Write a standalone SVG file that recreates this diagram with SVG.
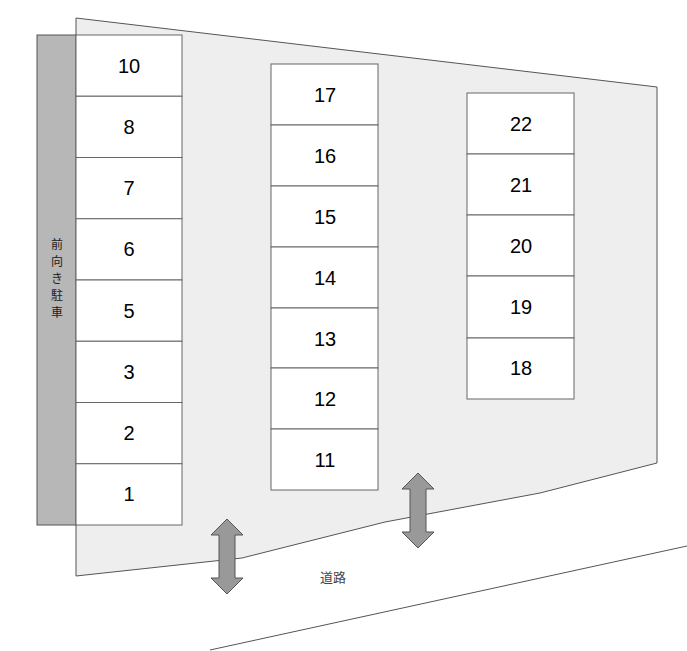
<svg xmlns="http://www.w3.org/2000/svg" width="687" height="651" viewBox="0 0 687 651">
<style>
.s{fill:#fff;stroke:#666;stroke-width:1}
.n{font-family:"Liberation Sans",Arial,sans-serif;font-size:20px;fill:#000;text-anchor:middle;dominant-baseline:central}
.ar{fill:#999;stroke:#555;stroke-width:1}
</style>
<rect width="687" height="651" fill="#fff"/>
<g id="lot"><polygon points="76,18 657,87 657,463 540,493 385,522 242,558 76,576" fill="#eee" stroke="#555" stroke-width="1"/></g>
<g id="bar"><rect x="37" y="35" width="39" height="490" fill="#b7b7b7" stroke="#555"/>
<text font-family="'Noto Sans CJK JP',sans-serif" font-size="12" fill="#222" text-anchor="middle"><tspan x="57" y="249">前</tspan><tspan x="57" y="266">向</tspan><tspan x="57" y="283">き</tspan><tspan x="57" y="300">駐</tspan><tspan x="57" y="317">車</tspan></text></g>
<g id="c1">
<rect class="s" x="76" y="35" width="106" height="61.25"/><text class="n" x="129" y="66">10</text>
<rect class="s" x="76" y="96.25" width="106" height="61.25"/><text class="n" x="129" y="127">8</text>
<rect class="s" x="76" y="157.5" width="106" height="61.25"/><text class="n" x="129" y="188">7</text>
<rect class="s" x="76" y="218.75" width="106" height="61.25"/><text class="n" x="129" y="249">6</text>
<rect class="s" x="76" y="280" width="106" height="61.25"/><text class="n" x="129" y="311">5</text>
<rect class="s" x="76" y="341.25" width="106" height="61.25"/><text class="n" x="129" y="372">3</text>
<rect class="s" x="76" y="402.5" width="106" height="61.25"/><text class="n" x="129" y="433">2</text>
<rect class="s" x="76" y="463.75" width="106" height="61.25"/><text class="n" x="129" y="494">1</text>
</g>
<g id="c2">
<rect class="s" x="271" y="64" width="107" height="61"/><text class="n" x="325" y="95">17</text>
<rect class="s" x="271" y="125" width="107" height="61"/><text class="n" x="325" y="156">16</text>
<rect class="s" x="271" y="186" width="107" height="61"/><text class="n" x="325" y="217">15</text>
<rect class="s" x="271" y="247" width="107" height="61"/><text class="n" x="325" y="278">14</text>
<rect class="s" x="271" y="308" width="107" height="60"/><text class="n" x="325" y="339">13</text>
<rect class="s" x="271" y="368" width="107" height="61"/><text class="n" x="325" y="399">12</text>
<rect class="s" x="271" y="429" width="107" height="61"/><text class="n" x="325" y="460">11</text>
</g>
<g id="c3">
<rect class="s" x="467" y="93" width="107" height="61"/><text class="n" x="521" y="124">22</text>
<rect class="s" x="467" y="154" width="107" height="61"/><text class="n" x="521" y="185">21</text>
<rect class="s" x="467" y="215" width="107" height="61"/><text class="n" x="521" y="246">20</text>
<rect class="s" x="467" y="276" width="107" height="62"/><text class="n" x="521" y="307">19</text>
<rect class="s" x="467" y="338" width="107" height="61"/><text class="n" x="521" y="368">18</text>
</g>
<g id="road"><line x1="210" y1="650" x2="687" y2="546" stroke="#555"/>
<text x="333" y="582" font-family="'Noto Sans CJK JP',sans-serif" font-size="13" fill="#444" text-anchor="middle">道路</text></g>
<g id="arrows">
<polygon class="ar" points="227,519 243,535 235,535 235,578 243,578 227,594 211,578 219,578 219,535 211,535"/>
<polygon class="ar" points="418,473 434,489 426,489 426,532 434,532 418,548 402,532 410,532 410,489 402,489"/>
</g>
</svg>
